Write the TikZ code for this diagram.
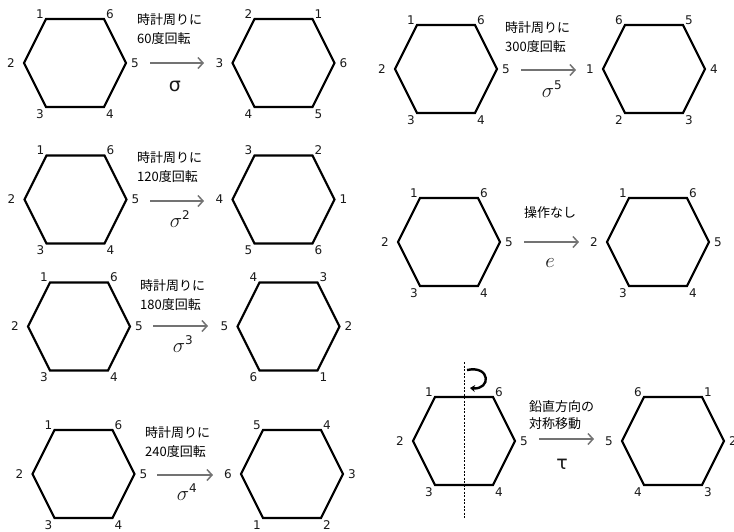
\documentclass[tikz,border=0pt]{standalone}
\usepackage{fontspec}
\setmainfont{DejaVu Sans}
\newfontfamily\jp{Noto Sans CJK JP}
\usetikzlibrary{arrows.meta}

\tikzset{
  hexline/.style={line width=2.1pt, line join=miter},
  lab/.style={font=\fontsize{12}{12}\selectfont, text=black!90, inner sep=0pt},
  op/.style={draw=black!55, line width=1.5pt, -{Straight Barb[length=5pt,width=11pt,line width=1.5pt]}},
  capt/.style={font=\jp\fontsize{13}{19}\selectfont, align=left, anchor=west, inner sep=0pt, text=black},
  sym/.style={inner sep=0pt, text=black!90},
  axis/.style={dash pattern=on 2pt off 1.5pt, line width=0.7pt}
}

% #1 name, #2 cx, #3 cy, #4 TL, #5 TR, #6 R, #7 BR, #8 BL, #9 L
\newcommand{\hexa}[9]{%
  \begin{scope}[shift={(#2,#3)}]
    \coordinate (#1-tl) at (-29,-44);
    \coordinate (#1-tr) at (29,-44);
    \coordinate (#1-r) at (51,0);
    \coordinate (#1-br) at (29,44);
    \coordinate (#1-bl) at (-29,44);
    \coordinate (#1-l) at (-51,0);
    \draw[hexline] (#1-tl) -- (#1-tr) -- (#1-r) -- (#1-br) -- (#1-bl) -- (#1-l) -- cycle;
    \node[lab] (#1-ntl) at (-35,-49) {#4};
    \node[lab] (#1-ntr) at (35,-49) {#5};
    \node[lab] (#1-nr) at (60,0) {#6};
    \node[lab] (#1-nbr) at (35,51) {#7};
    \node[lab] (#1-nbl) at (-35,51) {#8};
    \node[lab] (#1-nl) at (-64,0) {#9};
  \end{scope}}

\newcommand{\opsym}[1]{\fontsize{20}{20}\selectfont$\sigma^{\mbox{\fontsize{12}{12}\selectfont #1}}$}

\begin{document}
\begin{tikzpicture}[x=1pt,y=-1pt]
\useasboundingbox (0,0) rectangle (734,531);

% Panel 1
\hexa{a1}{75}{63}{1}{6}{5}{4}{3}{2}
\hexa{b1}{283.5}{63}{2}{1}{6}{5}{4}{3}
\coordinate (s1) at (150,63); \coordinate (e1) at (204,63);
\draw[op] (s1) -- (e1);
\node[capt] (t1) at (137,29.5) {時計周りに\\60度回転};
\node[sym, font=\fontsize{19}{19}\selectfont] (o1) at (175,86) {σ};

% Panel 2
\hexa{a2}{75.5}{199.5}{1}{6}{5}{4}{3}{2}
\hexa{b2}{283.5}{199.5}{3}{2}{1}{6}{5}{4}
\coordinate (s2) at (150,201); \coordinate (e2) at (204,201);
\draw[op] (s2) -- (e2);
\node[capt] (t2) at (137,167.5) {時計周りに\\120度回転};
\node[sym] (o2) at (180,219) {\opsym{2}};

% Panel 3
\hexa{a3}{79}{326.5}{1}{6}{5}{4}{3}{2}
\hexa{b3}{288.5}{326.5}{4}{3}{2}{1}{6}{5}
\coordinate (s3) at (153,326); \coordinate (e3) at (208,326);
\draw[op] (s3) -- (e3);
\node[capt] (t3) at (140,295.5) {時計周りに\\180度回転};
\node[sym] (o3) at (183,344) {\opsym{3}};

% Panel 4
\hexa{a4}{83.5}{474}{1}{6}{5}{4}{3}{2}
\hexa{b4}{292}{474}{5}{4}{3}{2}{1}{6}
\coordinate (s4) at (157,475); \coordinate (e4) at (213,475);
\draw[op] (s4) -- (e4);
\node[capt] (t4) at (145,442.5) {時計周りに\\240度回転};
\node[sym] (o4) at (187,492) {\opsym{4}};

% Panel 5
\hexa{a5}{446}{69}{1}{6}{5}{4}{3}{2}
\hexa{b5}{654}{69}{6}{5}{4}{3}{2}{1}
\coordinate (s5) at (521,70); \coordinate (e5) at (576,70);
\draw[op] (s5) -- (e5);
\node[capt] (t5) at (505,37) {時計周りに\\300度回転};
\node[sym] (o5) at (552,89) {\opsym{5}};

% Panel 6
\hexa{a6}{449}{242}{1}{6}{5}{4}{3}{2}
\hexa{b6}{658}{242}{1}{6}{5}{4}{3}{2}
\coordinate (s6) at (524,242); \coordinate (e6) at (579,242);
\draw[op] (s6) -- (e6);
\node[capt, anchor=center] (t6) at (550,213) {操作なし};
\node[sym, font=\fontsize{20}{20}\selectfont] (o6) at (550,263) {$e$};

% Panel 7
\hexa{a7}{464}{441}{1}{6}{5}{4}{3}{2}
\hexa{b7}{673}{441}{6}{1}{2}{3}{4}{5}
\coordinate (dt) at (464,362); \coordinate (db) at (464,518);
\draw[axis] (dt) -- (db);
\coordinate (rs) at (467,370); \coordinate (re) at (470,388);
\draw[line width=2.4pt, -{Stealth[length=5pt,width=7pt]}] (rs) .. controls (491,365) and (491,390) .. (re);
\coordinate (s7) at (539,439); \coordinate (e7) at (594,439);
\draw[op] (s7) -- (e7);
\node[capt, font=\jp\fontsize{13}{17}\selectfont] (t7) at (529,415.5) {鉛直方向の\\対称移動};
\node[sym, font=\fontsize{19}{19}\selectfont] (o7) at (562,464) {τ};

\end{tikzpicture}
\end{document}
